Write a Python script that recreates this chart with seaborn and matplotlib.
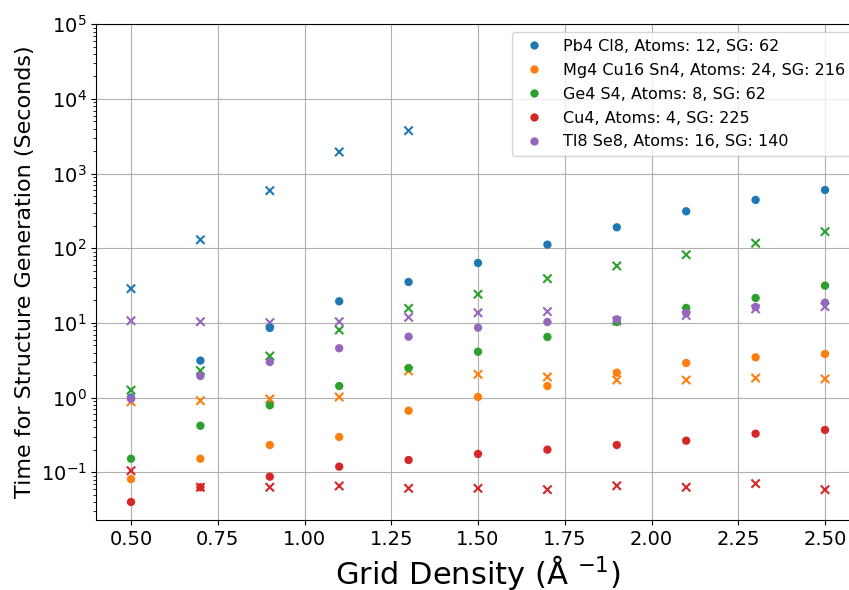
import matplotlib
matplotlib.use("Agg")
import matplotlib.pyplot as plt
import seaborn as sns
import pandas as pd
import numpy as np

grid_density = [0.5, 0.7, 0.9, 1.1, 1.3, 1.5, 1.7, 1.9, 2.1, 2.3, 2.5]

structures = [
    "Pb4 Cl8, Atoms: 12, SG: 62",
    "Mg4 Cu16 Sn4, Atoms: 24, SG: 216",
    "Ge4 S4, Atoms: 8, SG: 62",
    "Cu4, Atoms: 4, SG: 225",
    "Tl8 Se8, Atoms: 16, SG: 140",
]

# circle markers
pb4cl8_dot = [1.0, 3.13, 8.57, 19.5, 35.4, 63.6, 112, 191, 313, 444, 604]
mgcusn_dot = [0.081, 0.152, 0.232, 0.297, 0.668, 1.02, 1.43, 2.16, 2.91, 3.47, 3.84]
ge4s4_dot = [0.152, 0.42, 0.79, 1.43, 2.49, 4.12, 6.49, 10.3, 15.9, 21.6, 31.6]
cu4_dot = [0.040, 0.063, 0.0874, 0.119, 0.146, 0.176, 0.201, 0.232, 0.265, 0.329, 0.369]
tl8se8_dot = [0.96, 1.95, 3.0, 4.58, 6.55, 8.65, 10.3, 11.2, 13.5, 16.4, 18.7]

# x markers
pb4cl8_x = [28.8, 130, 591, 1950, 3760, np.nan, np.nan, np.nan, np.nan, np.nan, np.nan]
mgcusn_x = [0.88, 0.91, 0.96, 1.02, 2.28, 2.05, 1.89, 1.72, 1.72, 1.83, 1.78]
ge4s4_x = [1.26, 2.30, 3.61, 8.05, 15.7, 24.2, 39.2, 58, 82, 117, 167]
cu4_x = [0.105, 0.063, 0.063, 0.0656, 0.061, 0.061, 0.0585, 0.066, 0.063, 0.0705, 0.0585]
tl8se8_x = [10.7, 10.4, 10.1, 10.4, 11.9, 13.7, 14.2, 10.6, 12.6, 15.4, 16.5]

dot_series = [pb4cl8_dot, mgcusn_dot, ge4s4_dot, cu4_dot, tl8se8_dot]
x_series = [pb4cl8_x, mgcusn_x, ge4s4_x, cu4_x, tl8se8_x]


def to_long(series_list):
    rows = []
    for name, vals in zip(structures, series_list):
        for gd, v in zip(grid_density, vals):
            if not np.isnan(v):
                rows.append({"Grid Density": gd, "Time": v, "Structure": name})
    return pd.DataFrame(rows)


df_dot = to_long(dot_series)
df_x = to_long(x_series)

palette = dict(zip(structures, sns.color_palette("tab10", 5)))

fig = plt.figure(figsize=(8.49, 5.90), dpi=100)
ax = fig.add_axes([96.3 / 849, (590 - 520) / 590, 763.4 / 849, (520 - 24.3) / 590])

sns.scatterplot(data=df_x, x="Grid Density", y="Time", hue="Structure",
                palette=palette, marker="x", s=36, linewidth=1.5,
                legend=False, ax=ax, hue_order=structures)
sns.scatterplot(data=df_dot, x="Grid Density", y="Time", hue="Structure",
                palette=palette, marker="o", s=36, edgecolor="none",
                legend=True, ax=ax, hue_order=structures)

ax.set_yscale("log")
ax.set_xlim(0.4, 2.6)
ax.set_ylim(10 ** -1.639, 1e5)
ax.set_xticks([0.5, 0.75, 1.0, 1.25, 1.5, 1.75, 2.0, 2.25, 2.5])
ax.grid(True, which="major", color="#b0b0b0", linewidth=0.8)
ax.set_axisbelow(True)
ax.tick_params(axis="both", which="major", labelsize=14)

ax.set_xlabel("Grid Density (Å $^{-1}$)", fontsize=22, labelpad=3)
ax.set_ylabel("Time for Structure Generation (Seconds)", fontsize=16)

handles, labels = ax.get_legend_handles_labels()
ax.legend(handles, labels, loc="upper right", fontsize=11.5, labelspacing=0.56)

fig.savefig("out.png", dpi=100)
